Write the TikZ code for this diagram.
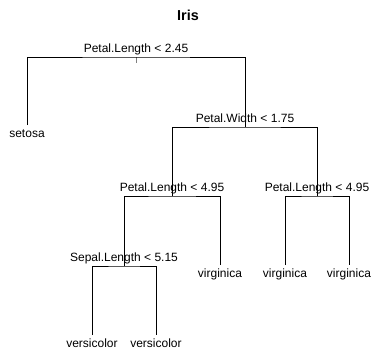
\documentclass[tikz,border=0pt]{standalone}
\usepackage{fontspec}
\setmainfont{Liberation Sans}
\usepackage{tikz}
\usetikzlibrary{positioning}

\begin{document}
\begin{tikzpicture}[
    x=1bp, y=-1bp,
    treeline/.style={draw, line width=0.8bp},
    splitlabel/.style={anchor=base, inner sep=0pt, yshift=4.5bp, font=\fontsize{12bp}{14bp}\selectfont},
    leaflabel/.style={anchor=base, inner sep=0pt, font=\fontsize{12bp}{14bp}\selectfont}
  ]
    \useasboundingbox (0,0) rectangle (374,349);
    \node[anchor=base, inner sep=0pt, font=\bfseries\fontsize{14.4bp}{16bp}\selectfont] (title) at (188,20) {Iris};
    \coordinate (root) at (136,57);
    \coordinate (width) at (245,127);
    \coordinate (lenleft) at (172,196);
    \coordinate (lenright) at (317,196);
    \coordinate (sepal) at (124,266);
    \coordinate (setosa) at (27,125);
    \coordinate (virg1) at (220,265);
    \coordinate (virg2) at (285,265);
    \coordinate (virg3) at (349,265);
    \coordinate (vers1) at (92,335);
    \coordinate (vers2) at (156,335);
    \node[splitlabel] (root-lbl) at (root) {Petal.Length < 2.45};
    \node[splitlabel] (width-lbl) at (width) {Petal.Width < 1.75};
    \node[splitlabel] (lenleft-lbl) at (lenleft) {Petal.Length < 4.95};
    \node[splitlabel] (lenright-lbl) at (lenright) {Petal.Length < 4.95};
    \node[splitlabel] (sepal-lbl) at (sepal) {Sepal.Length < 5.15};
    \node[leaflabel] (setosa-lbl) at (27,137) {setosa};
    \node[leaflabel] (virg1-lbl) at (220,277) {virginica};
    \node[leaflabel] (virg2-lbl) at (285,277) {virginica};
    \node[leaflabel] (virg3-lbl) at (349,277) {virginica};
    \node[leaflabel] (vers1-lbl) at (92,347) {versicolor};
    \node[leaflabel] (vers2-lbl) at (156,347) {versicolor};
    \draw[gray, line width=0.8bp] (root) -- ++(0,6);
    \draw[treeline] (setosa) |- (root) -| (width);
    \draw[treeline] (lenleft) |- (width) -| (lenright);
    \draw[treeline] (sepal) |- (lenleft) -| (virg1);
    \draw[treeline] (virg2) |- (lenright) -| (virg3);
    \draw[treeline] (vers1) |- (sepal) -| (vers2);
  \end{tikzpicture}
\end{document}
